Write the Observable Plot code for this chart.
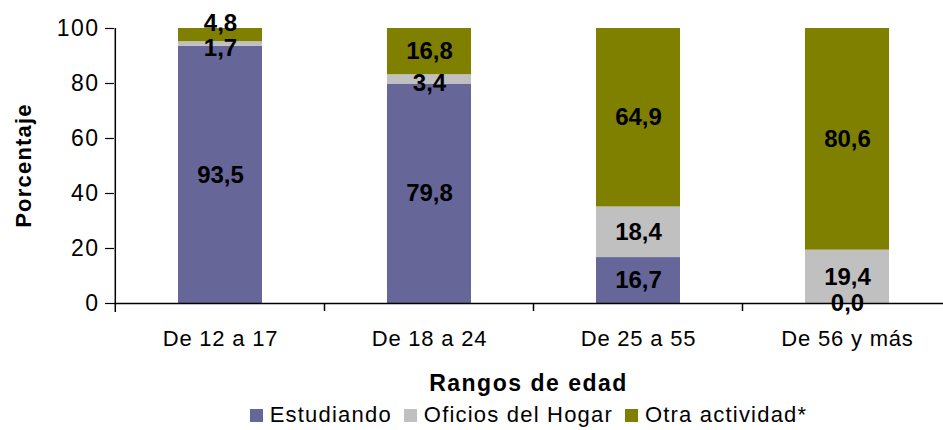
<!DOCTYPE html>
<html><head><meta charset="utf-8">
<script src="https://cdn.jsdelivr.net/npm/d3@7"></script>
<script src="https://cdn.jsdelivr.net/npm/@observablehq/plot@0.6"></script>
<style>
html,body{margin:0;padding:0;background:#fff;overflow:hidden;}
body{font-family:Arial,"Liberation Sans",sans-serif;color:#000;width:943px;}
#xtitle{padding-left:114px;text-align:center;font-weight:bold;font-size:23px;letter-spacing:1.5px;height:26px;line-height:26px;}
#legend{padding-left:114px;display:flex;justify-content:center;align-items:center;font-size:22px;letter-spacing:1.2px;height:38px;}
#legend .item{display:flex;align-items:center;margin:0 6px;}
#legend .sw{width:13px;height:13px;margin-right:7px;}
</style></head><body>
<div id="chart"></div>
<div id="xtitle">Rangos de edad</div>
<div id="legend"></div>
<script>
const categories = ["De 12 a 17", "De 18 a 24", "De 25 a 55", "De 56 y más"];
const series = ["Estudiando", "Oficios del Hogar", "Otra actividad*"];
const estudiando = [93.5, 79.8, 16.7, 0.0];
const oficios = [1.7, 3.4, 18.4, 19.4];
const otra = [4.8, 16.8, 64.9, 80.6];
const yTicks = [0, 20, 40, 60, 80, 100];
const colors = ["#666699", "#C0C0C0", "#808000"];

const rows = [];
[estudiando, oficios, otra].forEach((vals, s) =>
  vals.forEach((v, i) => rows.push({cat: categories[i], serie: series[s], si: s, value: v})));
const fmt = v => v.toFixed(1).replace(".", ",");
const small = d => d.value > 0 && d.value < 6;

const FONT = "Arial, 'Liberation Sans', sans-serif";
const W = 943, H = 370, mTop = 28, base = 303;
const textOpts = {x: "cat", y: "value", z: "serie", order: series, text: d => fmt(d.value), fontSize: 24, fontWeight: "bold",
  fill: "#000", fontFamily: FONT};

const plot = Plot.plot({
  width: W, height: H,
  marginTop: mTop, marginBottom: H - base, marginLeft: 114, marginRight: 0,
  style: {fontFamily: FONT, color: "#000", background: "#fff"},
  x: {domain: categories, range: [114, 953], paddingInner: 0.6, paddingOuter: 0.3, label: null},
  y: {domain: [0, 100], label: null},
  color: {domain: series, range: colors},
  marks: [
    Plot.barY(rows, {x: "cat", y: "value", fill: "serie", order: series}),
    Plot.text(rows, Plot.filter(d => !small(d), Plot.stackY({...textOpts}))),
    Plot.text(rows, Plot.filter(d => small(d) && d.si === 2, Plot.stackY({...textOpts, dy: -12}))),
    Plot.text(rows, Plot.filter(d => small(d) && d.si === 1, Plot.stackY({...textOpts, dy: 4}))),
    Plot.ruleY([0], {stroke: "#000", strokeWidth: 1.5}),
    Plot.axisY({ticks: yTicks, tickSize: 9, tickPadding: 6, fontSize: 23, label: null, stroke: "#000", strokeWidth: 1.2}),
    Plot.axisX({tickSize: 0, tickPadding: 27, fontSize: 22, label: null})
  ]
});
document.getElementById("chart").appendChild(plot);

// y axis line, x-axis boundary ticks, and y title, positioned from the plot's scales
const svg = d3.select(plot);
const xs = plot.scale("x"), ys = plot.scale("y");
const y0 = ys.apply(0), y100 = ys.apply(100);
const gap = xs.step - xs.bandwidth;
const x0 = xs.apply(categories[0]) - xs.step * xs.paddingOuter;
svg.append("line").attr("x1", x0).attr("x2", x0).attr("y1", y100).attr("y2", y0 + 9)
  .attr("stroke", "#000").attr("stroke-width", 1.5);
categories.slice(1).forEach(c => {
  const bx = xs.apply(c) - gap / 2;
  svg.append("line").attr("x1", bx).attr("x2", bx).attr("y1", y0).attr("y2", y0 + 8)
    .attr("stroke", "#000").attr("stroke-width", 1.5);
});
svg.append("text").text("Porcentaje")
  .attr("transform", `translate(31,${(y0 + y100) / 2}) rotate(-90)`)
  .attr("text-anchor", "middle").attr("font-weight", "bold").attr("font-size", 22)
  .attr("letter-spacing", "1.2px").attr("fill", "#000").attr("font-family", FONT);
svg.selectAll("[aria-label='y-axis tick label'] text").attr("letter-spacing", "1.5px");
svg.selectAll("[aria-label='x-axis tick label'] text").attr("letter-spacing", "0.8px");

const lg = d3.select("#legend");
series.forEach((s, i) => {
  const it = lg.append("div").attr("class", "item");
  it.append("div").attr("class", "sw").style("background", colors[i]);
  it.append("span").text(s);
});
</script>
</body></html>
